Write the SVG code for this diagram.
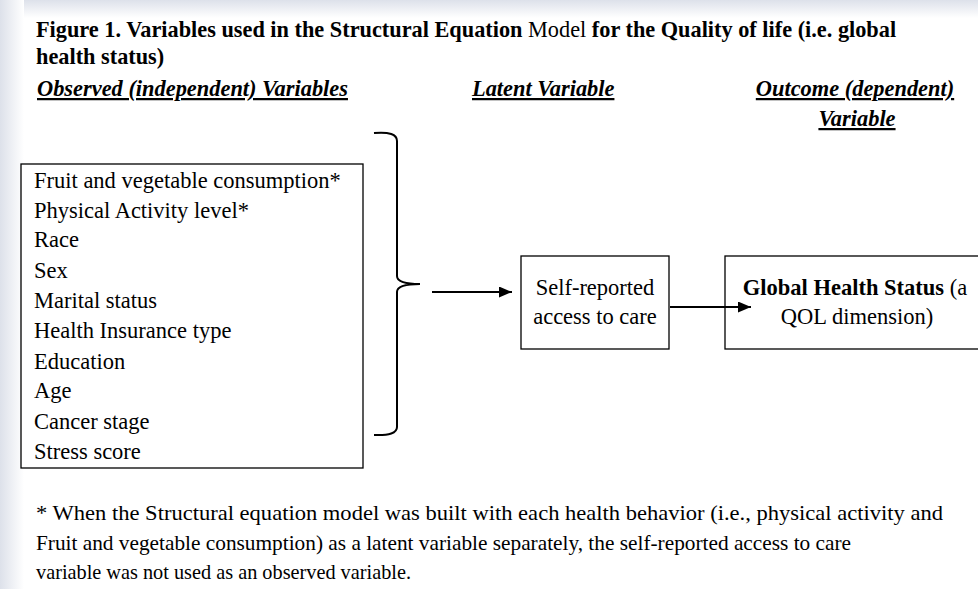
<svg xmlns="http://www.w3.org/2000/svg" width="978" height="589" viewBox="0 0 978 589">
<defs>
<linearGradient id="lg" x1="0" y1="0" x2="1" y2="0">
<stop offset="0" stop-color="#dde1ea"/>
<stop offset="1" stop-color="#ffffff"/>
</linearGradient>
<linearGradient id="tg" x1="0" y1="0" x2="0" y2="1">
<stop offset="0" stop-color="#dde1ea"/>
<stop offset="1" stop-color="#ffffff"/>
</linearGradient>
<marker id="ah" viewBox="0 0 13 11" refX="13" refY="5.5" markerWidth="13" markerHeight="11" markerUnits="userSpaceOnUse" orient="auto">
<path d="M0,0 L13,5.5 L0,11 z" fill="#000"/>
</marker>
<style>
text{font-family:"Liberation Serif","Times New Roman",serif;fill:#000}
.t{font-size:22.3px;font-weight:bold}
.h{font-size:22.4px;font-weight:bold;font-style:italic;text-decoration:underline}
.b{font-size:22.5px}
.n{font-size:22px}
.box{fill:#fff;stroke:#000;stroke-width:1.3}
.c{fill:none;stroke:#000;stroke-width:2}
</style>
</defs>
<rect x="0" y="0" width="978" height="589" fill="#dfe2ea"/>
<rect x="0" y="10" width="978" height="579" fill="#fff"/>
<rect x="0" y="0" width="978" height="18" fill="url(#tg)"/>
<rect x="0" y="0" width="24" height="589" fill="url(#lg)"/>

<g id="title">
<text class="t" x="36" y="37">Figure 1. Variables used in the Structural Equation <tspan font-weight="normal">Model</tspan> for the Quality of life (i.e. global</text>
<text class="t" x="36" y="64">health status)</text>
</g>
<g id="headers">
<text class="h" x="37" y="96">Observed (independent) Variables</text>
<text class="h" x="472" y="96">Latent Variable</text>
<text class="h" x="855" y="96" text-anchor="middle">Outcome (dependent)</text>
<text class="h" x="857" y="126" text-anchor="middle">Variable</text>
</g>

<g id="observed">
<rect class="box" x="21" y="164" width="342" height="304"/>
<text class="b" x="34" y="188">Fruit and vegetable consumption*</text>
<text class="b" x="34" y="218">Physical Activity level*</text>
<text class="b" x="34" y="247">Race</text>
<text class="b" x="34" y="278">Sex</text>
<text class="b" x="34" y="308">Marital status</text>
<text class="b" x="34" y="338">Health Insurance type</text>
<text class="b" x="34" y="369">Education</text>
<text class="b" x="34" y="398">Age</text>
<text class="b" x="34" y="429">Cancer stage</text>
<text class="b" x="34" y="459">Stress score</text>
</g>

<g id="latent">
<rect class="box" x="521" y="256" width="148" height="93"/>
<text class="b" x="595" y="295" text-anchor="middle">Self-reported</text>
<text class="b" x="595" y="324" text-anchor="middle">access to care</text>
</g>

<g id="outcome">
<rect class="box" x="725" y="256" width="270" height="93"/>
<text class="b" x="855" y="295" text-anchor="middle"><tspan font-weight="bold">Global Health Status</tspan> (a</text>
<text class="b" x="857" y="324" text-anchor="middle">QOL dimension)</text>
</g>

<g id="connectors">
<path class="c" d="M374,133 Q397,131 397,141 L397,276 Q397,284 420,284 M420,284 Q397,284 397,292 L397,427 Q397,436 374,435"/>
<line class="c" x1="432" y1="292" x2="512" y2="292" marker-end="url(#ah)"/>
<line class="c" x1="670" y1="307" x2="751" y2="307" marker-end="url(#ah)"/>
</g>

<g id="footnote">
<text class="n" x="36" y="520" textLength="907" lengthAdjust="spacingAndGlyphs">* When the Structural equation model was built with each health behavior (i.e., physical activity and</text>
<text class="n" x="36" y="550" textLength="815" lengthAdjust="spacingAndGlyphs">Fruit and vegetable consumption) as a latent variable separately, the self-reported access to care</text>
<text class="n" x="36" y="579" textLength="375" lengthAdjust="spacingAndGlyphs">variable was not used as an observed variable.</text>
</g>
</svg>
